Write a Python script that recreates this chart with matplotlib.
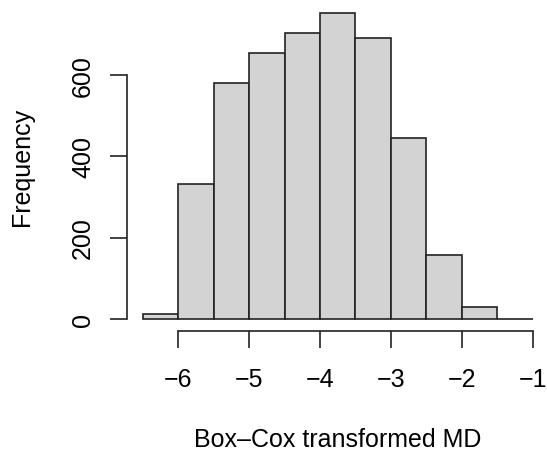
import numpy as np
import matplotlib
matplotlib.use("Agg")
import matplotlib.pyplot as plt

plt.rcParams['font.family'] = ['Liberation Sans', 'DejaVu Sans']

## histogram bins (Box-Cox transformed MD) and counts
bin_edges = [-6.5, -6.0, -5.5, -5.0, -4.5, -4.0, -3.5, -3.0, -2.5, -2.0, -1.5, -1.0]
counts = [11, 332, 580, 654, 702, 752, 689, 445, 157, 30, 1]
x_ticks = [-6, -5, -4, -3, -2, -1]
y_ticks = [0, 200, 400, 600]
x_label = "Box\u2013Cox transformed MD"
y_label = "Frequency"

fig = plt.figure(figsize=(5.47, 4.56), dpi=100)
W, H = 547.0, 456.0
# plot region in pixels (R style, 4% padding around the data range)
left, right, top, bottom = 126.9, 548.6, 1.5, 332.2
ax = fig.add_axes([left / W, 1 - bottom / H, (right - left) / W, (bottom - top) / H])

edges = np.array(bin_edges)
ax.bar(edges[:-1], counts, width=np.diff(edges), align='edge',
       color='#d3d3d3', edgecolor='#222222', linewidth=1.2)

# R-like axis limits
xr = edges[-1] - edges[0]
ax.set_xlim(edges[0] - 0.04 * xr, edges[-1] + 0.04 * xr)
ymax = max(counts)
ax.set_ylim(-0.04 * ymax, ymax * 1.04)

for s in ['top', 'right']:
    ax.spines[s].set_visible(False)
ax.spines['bottom'].set_bounds(x_ticks[0], x_ticks[-1])
ax.spines['left'].set_bounds(y_ticks[0], y_ticks[-1])
for s in ['bottom', 'left']:
    ax.spines[s].set_color('#222222')
    ax.spines[s].set_linewidth(1.2)

ax.set_xticks(x_ticks)
ax.set_xticklabels(["\u2212%d" % abs(v) for v in x_ticks])
ax.set_yticks(y_ticks)
ax.set_yticklabels([str(v) for v in y_ticks], rotation=90, va='center')
ax.tick_params(axis='both', length=12, width=1.2, color='#222222', labelsize=18)
ax.tick_params(axis='x', pad=14)
ax.tick_params(axis='y', pad=11)

cx = (left + right) / 2
cy = (top + bottom) / 2
fig.text(22 / W, 1 - cy / H, y_label, rotation=90, ha='center', va='center', fontsize=18)
fig.text(cx / W, 1 - 440 / H, x_label, ha='center', va='center', fontsize=18)

fig.savefig("out.png", dpi=100)
